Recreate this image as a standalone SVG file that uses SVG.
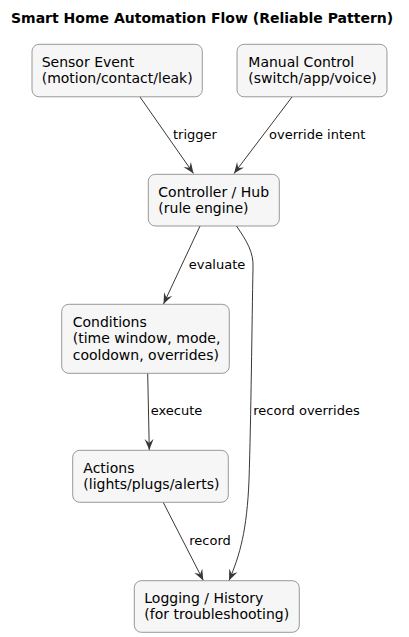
<svg xmlns="http://www.w3.org/2000/svg" width="409" height="637" viewBox="0 0 409 637">
<defs>
<style>
.node rect{fill:#F6F6F6;stroke:#6E6E6E;stroke-width:0.7}
.node text{font-family:"DejaVu Sans",sans-serif;font-size:14px;fill:#000}
.title{font-family:"DejaVu Sans",sans-serif;font-size:14px;font-weight:bold;fill:#000}
.edge{fill:none;stroke:#383838;stroke-width:1}
.lbl{font-family:"DejaVu Sans",sans-serif;font-size:13px;fill:#000}
</style>
<marker id="arr" viewBox="0 0 11 10" refX="11" refY="5" markerWidth="11" markerHeight="10" markerUnits="userSpaceOnUse" orient="auto">
<path d="M0,0.5 L11,5 L0,9.5 L4,5 Z" fill="#383838"/>
</marker>
</defs>
<rect width="409" height="637" fill="#FFFFFF"/>
<text class="title" x="11" y="23">Smart Home Automation Flow (Reliable Pattern)</text>

<g id="connectors">
<path class="edge" marker-end="url(#arr)" d="M140,97 L193.5,173.5"/>
<path class="edge" marker-end="url(#arr)" d="M292,97 L234,173.5"/>
<path class="edge" marker-end="url(#arr)" d="M200,226 L163.5,304"/>
<path class="edge" marker-end="url(#arr)" d="M236.5,226 C246,240 254,252 253,268 C252,320 251,420 249,480 C247,530 240,555 229,580.5"/>
<path class="edge" marker-end="url(#arr)" d="M147.7,373.5 L149.3,450"/>
<path class="edge" marker-end="url(#arr)" d="M163.3,502.5 L203.3,580.5"/>
<text class="lbl" x="173" y="139">trigger</text>
<text class="lbl" x="269" y="139">override intent</text>
<text class="lbl" x="188.7" y="269">evaluate</text>
<text class="lbl" x="150.7" y="415">execute</text>
<text class="lbl" x="253.3" y="415">record overrides</text>
<text class="lbl" x="189.3" y="545">record</text>
</g>

<g id="sensor" class="node">
<rect x="32" y="44.3" width="170.3" height="52.5" rx="7" ry="7"/>
<text x="41.7" y="66.7">Sensor Event</text>
<text x="41.7" y="83.2">(motion/contact/leak)</text>
</g>
<g id="manual" class="node">
<rect x="237" y="44.3" width="150" height="52.5" rx="7" ry="7"/>
<text x="248.3" y="66.7">Manual Control</text>
<text x="248.3" y="83.2">(switch/app/voice)</text>
</g>
<g id="controller" class="node">
<rect x="148.3" y="174.3" width="131" height="51.7" rx="7" ry="7"/>
<text x="158.3" y="196.7">Controller / Hub</text>
<text x="158.3" y="213.2">(rule engine)</text>
</g>
<g id="conditions" class="node">
<rect x="61.7" y="304.3" width="167.6" height="69" rx="7" ry="7"/>
<text x="72.7" y="326.7">Conditions</text>
<text x="72.7" y="343.1">(time window, mode,</text>
<text x="72.7" y="359.5">cooldown, overrides)</text>
</g>
<g id="actions" class="node">
<rect x="72.7" y="450.3" width="155.6" height="52" rx="7" ry="7"/>
<text x="83.3" y="472.7">Actions</text>
<text x="83.3" y="489.2">(lights/plugs/alerts)</text>
</g>
<g id="logging" class="node">
<rect x="134.3" y="580.7" width="165" height="51.6" rx="7" ry="7"/>
<text x="144.3" y="602.8">Logging / History</text>
<text x="144.3" y="619.3">(for troubleshooting)</text>
</g>
</svg>
